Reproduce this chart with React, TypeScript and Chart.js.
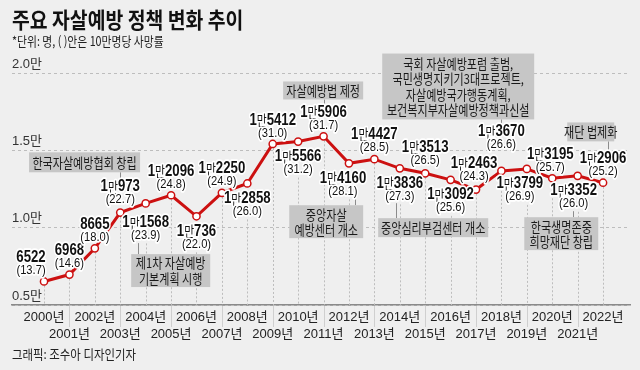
import React, { useEffect, useRef } from 'react';
import { Chart, registerables } from 'chart.js';

Chart.register(...registerables);

// ---------------- data ----------------
const years = [2000, 2001, 2002, 2003, 2004, 2005, 2006, 2007, 2008, 2009, 2010, 2011, 2012, 2013, 2014, 2015, 2016, 2017, 2018, 2019, 2020, 2021, 2022];
const deaths = [6522, 6968, 8665, 10973, 11568, 12096, 10736, 12250, 12858, 15412, 15566, 15906, 14160, 14427, 13836, 13513, 13092, 12463, 13670, 13799, 13195, 13352, 12906];
const rates = [13.7, 14.6, 18.0, 22.7, 23.9, 24.8, 22.0, 24.9, 26.0, 31.0, 31.2, 31.7, 28.1, 28.5, 27.3, 26.5, 25.6, 24.3, 26.6, 26.9, 25.7, 26.0, 25.2];
const yTickValues = [5000, 10000, 15000, 20000];
const yTickLabels = ['0.5만', '1.0만', '1.5만', '2.0만'];

// label placement (u = above point, d = below)
const labelSide = ['u', 'u', 'u', 'u', 'd', 'u', 'd', 'u', 'd', 'u', 'd', 'u', 'd', 'u', 'd', 'u', 'd', 'u', 'u', 'd', 'u', 'd', 'u'];
const labelDx = [-13, 0, 0, 0, 0, 0, 0, 0, 0, 0, 0, 0, -6, 0, 0, 0, 0, -2, 0, -7, -2, -4, 0];
const labelDy = [0, 0, 0, -2, 4, 0, 0, 0, 0, 0, 0, 0, 0, -1, 0, -2, 0, -2, -15, 0, 0, 0, 0];

// annotation boxes in data units (x: year index, y: value)
const notes = [
  { lines: ['한국자살예방협회 창립'], x0: -0.59, x1: 3.78, y0: 14871, y1: 13581, cx: 3, c0: 13581, c1: 12871 },
  { lines: ['제1차 자살예방', '기본계획 시행'], x0: 3.43, x1: 6.54, y0: 8290, y1: 6161, cx: 3.7, c0: 9000, c1: 8290 },
  { lines: ['자살예방법 제정'], x0: 9.41, x1: 12.56, y0: 19452, y1: 18290, cx: 11, c0: 18290, c1: 17774 },
  { lines: ['중앙자살', '예방센터 개소'], x0: 9.65, x1: 12.56, y0: 11452, y1: 9323, cx: 12.24, c0: 11968, c1: 11452 },
  { lines: ['국회 자살예방포럼 출범,', '국민생명지키기3대프로젝트,', '자살예방국가행동계획,', '보건복지부자살예방정책과신설'], x0: 13.31, x1: 19.29, y0: 21258, y1: 17000, cx: 18, c0: 17000, c1: 16677 },
  { lines: ['중앙심리부검센터 개소'], x0: 13.15, x1: 17.48, y0: 10613, y1: 9387, cx: 13.86, c0: 11581, c1: 10613 },
  { lines: ['한국생명존중', '희망재단 창립'], x0: 18.9, x1: 21.81, y0: 10677, y1: 8548, cx: 20.83, c0: 11065, c1: 10677 },
  { lines: ['재단 법제화'], x0: 20.59, x1: 22.44, y0: 16806, y1: 15581, cx: 22.2, c0: 15581, c1: 15000 },
];

const RED = '#cc1010';
const KR = '"Noto Sans CJK KR", "Noto Sans", sans-serif';
const NUM = '"Liberation Sans", Arial, sans-serif';

function drawText(ctx: CanvasRenderingContext2D, text: string, x: number, y: number, font: string, color: string, sx: number, align: CanvasTextAlign = 'left') {
  ctx.save();
  ctx.font = font;
  ctx.fillStyle = color;
  ctx.textAlign = align;
  ctx.textBaseline = 'middle';
  ctx.translate(x, y);
  ctx.scale(sx, 1);
  ctx.fillText(text, 0, 0);
  ctx.restore();
}

function drawSegments(ctx: CanvasRenderingContext2D, segs: { t: string; f: string }[], cx: number, cy: number, sx: number) {
  ctx.save();
  ctx.textBaseline = 'middle';
  ctx.textAlign = 'left';
  let total = 0;
  const widths = segs.map((s) => {
    ctx.font = s.f;
    const w = ctx.measureText(s.t).width;
    total += w;
    return w;
  });
  ctx.translate(cx - (total * sx) / 2, cy);
  ctx.scale(sx, 1);
  for (const pass of ['stroke', 'fill']) {
    let x = 0;
    segs.forEach((s, i) => {
      ctx.font = s.f;
      if (pass === 'stroke') {
        ctx.strokeStyle = '#ffffff';
        ctx.lineWidth = 3.5;
        ctx.lineJoin = 'round';
        ctx.strokeText(s.t, x, 0);
      } else {
        ctx.fillStyle = '#111111';
        ctx.fillText(s.t, x, 0);
      }
      x += widths[i];
    });
  }
  ctx.restore();
}

const decorPlugin = {
  id: 'decor',
  beforeDatasetsDraw(chart: any) {
    const ctx: CanvasRenderingContext2D = chart.ctx;
    const { bottom } = chart.chartArea;
    const meta = chart.getDatasetMeta(0);
    ctx.save();
    ctx.strokeStyle = '#bdbdbd';
    ctx.lineWidth = 1;
    ctx.setLineDash([2, 2]);
    meta.data.forEach((pt: any, i: number) => {
      const start = labelSide[i] === 'd' ? pt.y + 36 + labelDy[i] : pt.y;
      const x = Math.round(pt.x) + 0.5;
      ctx.beginPath();
      ctx.moveTo(x, start);
      ctx.lineTo(x, bottom);
      ctx.stroke();
    });
    ctx.restore();
  },
  afterDatasetsDraw(chart: any) {
    const ctx: CanvasRenderingContext2D = chart.ctx;
    const xs = chart.scales.x;
    const ys = chart.scales.y;
    // connectors
    ctx.save();
    ctx.strokeStyle = '#8c8c8c';
    ctx.lineWidth = 1;
    notes.forEach((n) => {
      const x = Math.round(xs.getPixelForValue(n.cx)) + 0.5;
      ctx.beginPath();
      ctx.moveTo(x, ys.getPixelForValue(n.c0));
      ctx.lineTo(x, ys.getPixelForValue(n.c1));
      ctx.stroke();
    });
    ctx.restore();
    // boxes
    notes.forEach((n) => {
      const l = xs.getPixelForValue(n.x0);
      const r = xs.getPixelForValue(n.x1);
      const t = ys.getPixelForValue(n.y0);
      const b = ys.getPixelForValue(n.y1);
      ctx.save();
      ctx.fillStyle = '#c6c6c6';
      ctx.fillRect(l, t, r - l, b - t);
      ctx.restore();
      const lh = 15.5;
      const mid = (t + b) / 2;
      const cx = (l + r) / 2;
      n.lines.forEach((line, i) => {
        const y = mid + (i - (n.lines.length - 1) / 2) * lh + 0.5;
        drawText(ctx, line, cx, y, `13.5px ${KR}`, '#1a1a1a', 0.82, 'center');
      });
    });
    // data labels
    const meta = chart.getDatasetMeta(0);
    meta.data.forEach((pt: any, i: number) => {
      const v = deaths[i];
      const segs: { t: string; f: string }[] = [];
      const bold = `bold 16.5px ${NUM}`;
      if (v >= 10000) {
        segs.push({ t: String(Math.floor(v / 10000)), f: bold });
        segs.push({ t: '만', f: `13.5px ${KR}` });
        segs.push({ t: String(v % 10000), f: bold });
      } else {
        segs.push({ t: String(v), f: bold });
      }
      const up = labelSide[i] === 'u';
      const x = pt.x + labelDx[i];
      const yNum = pt.y + (up ? -24 : 15) + labelDy[i];
      const yRate = pt.y + (up ? -11 : 28) + labelDy[i];
      drawSegments(ctx, segs, x, yNum, 0.8);
      drawSegments(ctx, [{ t: `(${rates[i].toFixed(1)})`, f: `13px ${NUM}` }], x, yRate, 0.86);
    });
  },
  afterDraw(chart: any) {
    const ctx: CanvasRenderingContext2D = chart.ctx;
    const xs = chart.scales.x;
    const { bottom } = chart.chartArea;
    // separators for odd years below axis
    ctx.save();
    ctx.strokeStyle = '#cfcfcf';
    ctx.lineWidth = 1;
    years.forEach((_, i) => {
      if (i % 2 === 1) {
        const x = Math.round(xs.getPixelForValue(i)) + 0.5;
        ctx.beginPath();
        ctx.moveTo(x, bottom + 1);
        ctx.lineTo(x, bottom + 22);
        ctx.stroke();
      }
    });
    ctx.restore();
    drawText(ctx, '주요 자살예방 정책 변화 추이', 12, 20, `bold 22px ${KR}`, '#111111', 0.88, 'left');
    drawText(ctx, '*단위: 명, ( )안은 10만명당 사망률', 12, 41, `13px ${KR}`, '#222222', 0.83, 'left');
    drawText(ctx, '그래픽: 조수아 디자인기자', 12, 354, `13px ${KR}`, '#222222', 0.88, 'left');
  },
};

export default function App() {
  const ref = useRef<HTMLCanvasElement | null>(null);
  useEffect(() => {
    document.body.style.margin = '0';
    const canvas = ref.current;
    if (!canvas) return;
    const chart = new Chart(canvas, {
      type: 'line',
      data: {
        datasets: [
          {
            data: deaths.map((d, i) => ({ x: i, y: d })),
            borderColor: RED,
            borderWidth: 3,
            pointRadius: 3.6,
            pointBackgroundColor: '#ffffff',
            pointBorderColor: RED,
            pointBorderWidth: 1.5,
            tension: 0,
          },
        ],
      },
      options: {
        animation: false,
        responsive: false,
        devicePixelRatio: 1,
        layout: { padding: { top: 73, left: 12, right: 10, bottom: 0 } },
        plugins: { legend: { display: false }, tooltip: { enabled: false } },
        scales: {
          x: {
            type: 'linear',
            min: -1.26,
            max: 23.06,
            afterBuildTicks: (axis: any) => {
              axis.ticks = years.map((_, i) => ({ value: i }));
            },
            afterFit: (axis: any) => {
              axis.height = 65;
            },
            grid: { display: false, drawTicks: false },
            border: { display: true, color: '#8a8a8a', width: 1.5 },
            ticks: {
              autoSkip: false,
              maxRotation: 0,
              minRotation: 0,
              padding: 3,
              color: '#222222',
              font: { size: 13, family: '"Liberation Sans Narrow", "Liberation Sans", "Noto Sans CJK KR"', lineHeight: 1.38 },
              callback: (v: any) => {
                const i = Math.round(Number(v));
                const label = `${years[i]}년`;
                return i % 2 === 1 ? ['', label] : label;
              },
            },
          },
          y: {
            type: 'linear',
            min: 5000,
            max: 20000,
            afterBuildTicks: (axis: any) => {
              axis.ticks = yTickValues.map((v) => ({ value: v }));
            },
            afterFit: (axis: any) => {
              axis.width = 0;
            },
            border: { display: false, dash: [3, 3] },
            grid: { color: '#bdbdbd', lineWidth: 1, drawTicks: false },
            ticks: {
              mirror: true,
              padding: 0,
              labelOffset: -9,
              color: '#333333',
              font: { size: 13, family: '"Liberation Sans Narrow", "Liberation Sans", "Noto Sans CJK KR"' },
              callback: (v: any) => {
                const idx = yTickValues.indexOf(Number(v));
                return idx >= 0 ? yTickLabels[idx] : '';
              },
            },
          },
        },
      },
      plugins: [decorPlugin],
    });
    return () => chart.destroy();
  }, []);
  return (
    <div style={{ width: 640, height: 370, background: '#efefef', position: 'relative' }}>
      <canvas ref={ref} width={640} height={370} style={{ display: 'block' }} />
    </div>
  );
}
